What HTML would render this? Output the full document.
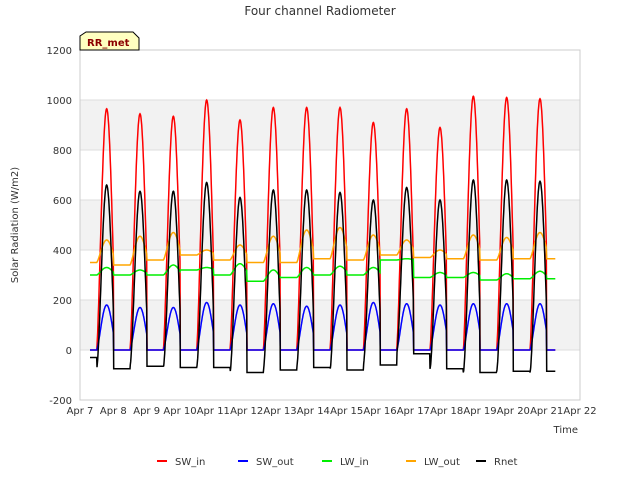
<!DOCTYPE html>
<html><head><meta charset="utf-8"><style>
body{margin:0;background:#fff;font-family:"DejaVu Sans","Liberation Sans",sans-serif}
</style></head><body>
<svg id="c" width="640" height="480" xmlns="http://www.w3.org/2000/svg" font-family="DejaVu Sans, Liberation Sans, sans-serif">
<text x="320" y="15" text-anchor="middle" font-size="12" fill="#333">Four channel Radiometer</text>
<g id="bands"></g><g id="grid"></g>
<rect x="80" y="50" width="500" height="350" fill="none" stroke="#ccc"/>
<g id="series"></g><g id="axes"></g>
<text x="18" y="225" transform="rotate(-90 18 225)" text-anchor="middle" font-size="10" fill="#333">Solar Radiation (W/m2)</text>
<text x="578" y="433" text-anchor="end" font-size="10" fill="#333">Time</text>
<g><path d="M80,50 L80,36 L86,32 L133,32 L139,38 L139,50 Z" fill="#ffffc0" stroke="#000"/><text x="87" y="46" font-size="10" font-weight="bold" fill="#8b0000">RR_met</text></g>
<g id="legend"></g>
</svg>
<script>
const days=[7,8,9,10,11,12,13,14,15,16,17,18,19,20];
const swInPeak=[965,945,935,1000,920,970,970,970,910,965,890,1015,1010,1005];
const swOutPeak=[180,170,170,190,180,185,175,180,190,185,180,185,185,185];
const rnetPeak=[660,635,635,670,610,640,640,630,600,650,600,680,680,675];
const rnetNight=[-75,-65,-70,-70,-90,-80,-70,-80,-60,-15,-75,-90,-85,-90];
const lwOutPeak=[440,455,470,400,420,455,480,490,460,440,400,460,450,470];
const lwOutNight=[350,340,360,380,360,350,350,365,360,380,370,365,360,365];
const lwInDay=[330,320,340,330,345,320,330,335,330,365,310,310,305,315];
const lwInNight=[300,300,300,320,300,275,290,300,300,360,290,290,280,285];
const yTicks=[-200,0,200,400,600,800,1000,1200];
const xTicks=["Apr 7","Apr 8","Apr 9","Apr 10","Apr 11","Apr 12","Apr 13","Apr 14","Apr 15","Apr 16","Apr 17","Apr 18","Apr 19","Apr 20","Apr 21","Apr 22"];
const NS="http://www.w3.org/2000/svg";
const X=d=>80+(d-7)*500/15, Y=v=>350-v*0.25;
function mk(t,a,p){const e=document.createElementNS(NS,t);for(const k in a)e.setAttribute(k,a[k]);p.appendChild(e);return e;}
const bands=document.getElementById('bands'),grid=document.getElementById('grid'),axes=document.getElementById('axes');
[[0,200],[400,600],[800,1000]].forEach(b=>{const r=mk('rect',{x:80,y:Y(b[1]),width:500,height:Y(b[0])-Y(b[1]),fill:'#f2f2f2'},bands);

});
yTicks.forEach(v=>{mk('line',{x1:80,x2:580,y1:Y(v),y2:Y(v),stroke:'#ddd'},grid);
const t=mk('text',{x:72,y:Y(v)+4,'text-anchor':'end','font-size':10,fill:'#333'},axes);t.textContent=v;

});
xTicks.forEach((s,i)=>{const t=mk('text',{x:X(7+i),y:414,'text-anchor':'middle','font-size':10,fill:'#333'},axes);t.textContent=s;

});
function sh(f){const p=(f-0.5)/0.6;return (p<=0||p>=1)?0:Math.pow(Math.sin(Math.PI*p),1.4);}
function build(fn){const pts=[];for(let t=7.3;t<=21.27;t+=0.01){const di=Math.max(0,Math.min(13,Math.floor(t-7)));const f=t-Math.floor(t);pts.push([X(t),Y(fn(di,sh(f),f,t))]);}return pts;}
const series=[
['SW_in','#ff0000',(i,s)=>swInPeak[i]*s],
['SW_out','#0000ff',(i,s)=>swOutPeak[i]*s],
['LW_in','#00ee00',(i,s)=>lwInNight[i]+(lwInDay[i]-lwInNight[i])*s],
['LW_out','#ffa500',(i,s)=>lwOutNight[i]+(lwOutPeak[i]-lwOutNight[i])*s],
['Rnet','#000000',(i,s,f,t)=>{const n=f<0.5?(i>0?rnetNight[i-1]:-30):rnetNight[i];return n+(rnetPeak[i]-n)*Math.pow(s,1.15);}]];
const sg=document.getElementById('series'),lg=document.getElementById('legend');
series.forEach((s,k)=>{const p=mk('polyline',{points:build(s[2]).map(q=>q[0].toFixed(1)+','+q[1].toFixed(1)).join(' '),fill:'none',stroke:s[1],'stroke-width':1.5},sg);


const lx=[157,238,322,406,476][k];
const g=mk('g',{},lg);


mk('line',{x1:lx,x2:lx+10,y1:461,y2:461,stroke:s[1],'stroke-width':2},g);
const t=mk('text',{x:lx+18,y:465,'font-size':10,fill:'#333'},g);t.textContent=s[0];});
</script>
</body></html>
